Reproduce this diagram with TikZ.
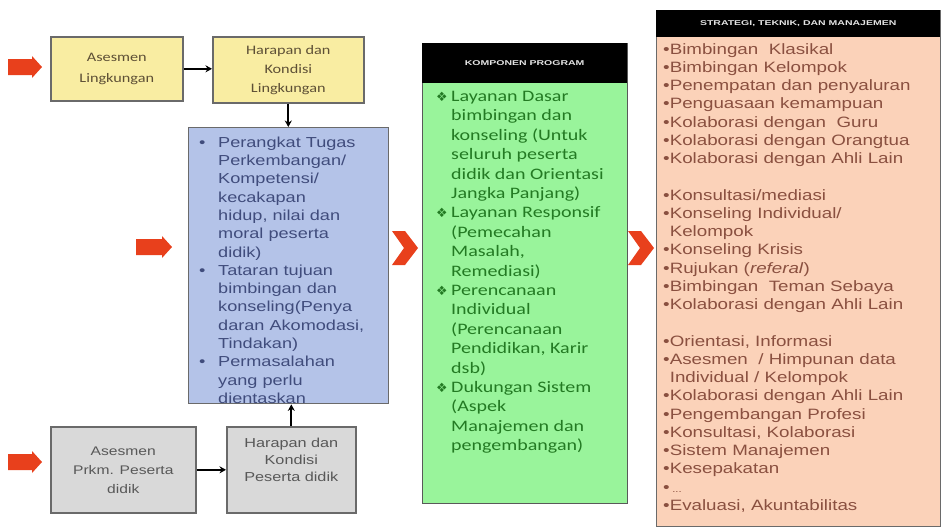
\documentclass[tikz,border=0pt]{standalone}
\usepackage{fontspec}
\usetikzlibrary{arrows.meta}
\newfontfamily\calf[FakeStretch=1.25]{Carlito}
\newfontfamily\arif[FakeStretch=1.25]{Liberation Sans}
\newfontfamily\hdrf[FakeStretch=1.5]{Liberation Sans}
\newfontfamily\dejf[Scale=0.8]{DejaVu Sans}
\definecolor{yel}{HTML}{F9EDA2}
\definecolor{yelt}{HTML}{5E5036}
\definecolor{grayf}{HTML}{D9D9D9}
\definecolor{grayt}{HTML}{585858}
\definecolor{bluef}{HTML}{B4C3E8}
\definecolor{bluet}{HTML}{404C7C}
\definecolor{greenf}{HTML}{99F49B}
\definecolor{greent}{HTML}{237A23}
\definecolor{orf}{HTML}{FBD2B9}
\definecolor{ort}{HTML}{8A5040}
\definecolor{redarr}{HTML}{E8401C}
\definecolor{edge}{HTML}{6A6A6A}
\newcommand{\bl}{\makebox[19pt][l]{•}}
\newcommand{\ind}{\hspace*{19pt}}
\newcommand{\gd}{\makebox[15pt][l]{\dejf ❖}}
\newcommand{\gind}{\hspace*{15pt}}
\newcommand{\ob}{•}
\newcommand{\oind}{\hspace*{6.6pt}}
\begin{document}
\begin{tikzpicture}[x=1pt,y=-1pt,
  box/.style={draw=edge, line width=1.6pt, inner sep=2pt, align=center, anchor=north west},
  ybox/.style={box, fill=yel, text=yelt, font={\calf\fontsize{13}{19}\selectfont}},
  gbox/.style={box, fill=grayf, text=grayt, font={\arif\fontsize{12.5}{19}\selectfont}},
  bigbox/.style={draw=edge, line width=1.4pt, anchor=north west, inner sep=0pt},
  hdr/.style={fill=black, anchor=north west, inner sep=0pt, text=white!80!gray, font={\hdrf\bfseries\fontsize{7}{8}\selectfont}},
  conn/.style={line width=2pt, -{Stealth[length=6.5pt,width=7pt]}},
  redfill/.style={fill=redarr, draw=none}]
\fill[white] (0,0) rectangle (944,528);
\useasboundingbox (0,0) rectangle (944,528);

% top row
\node[ybox, minimum width=132pt, minimum height=64pt, font={\calf\fontsize{13}{21}\selectfont}] (a1) at (50,36) {Asesmen\\Lingkungan};
\node[ybox, minimum width=151pt, minimum height=66pt] (h1) at (212,36) {Harapan dan\\Kondisi\\Lingkungan};

% blue box
\node[bigbox, fill=bluef, minimum width=200pt, minimum height=276pt] (blue) at (188,127) {};
\node[anchor=north west, inner sep=0pt, align=left, text=bluet, font={\arif\fontsize{14.5}{18.3}\selectfont}] (bluetext) at (199,136.5)
{\bl Perangkat Tugas\\\ind Perkembangan/\\\ind Kompetensi/\\\ind kecakapan\\\ind hidup, nilai dan\\\ind moral peserta\\\ind didik)\\
\bl Tataran tujuan\\\ind bimbingan dan\\\ind konseling(Penya\\\ind daran Akomodasi,\\\ind Tindakan)\\
\bl Permasalahan\\\ind yang perlu\\\ind dientaskan};

% bottom row
\node[gbox, minimum width=145pt, minimum height=86pt] (a2) at (50,426) {Asesmen\\Prkm. Peserta\\didik};
\node[gbox, minimum width=129pt, minimum height=86pt, font={\arif\fontsize{13}{17}\selectfont}] (h2) at (226,426) {Harapan dan\\Kondisi\\Peserta didik\\[4pt]\mbox{}};

% connectors
\draw[conn] (a1.east) -- (h1.west |- a1.east);
\draw[conn] (h1.south) -- (h1.south |- blue.north);
\draw[conn] (a2.east) -- (h2.west |- a2.east);
\draw[conn] (h2.north) -- (h2.north |- blue.south);

% green box
\node[bigbox, fill=greenf, draw=gray!70!black, minimum width=205pt, minimum height=460pt] (green) at (422,43) {};
\node[hdr, minimum width=205pt, minimum height=40pt] (ghdr) at (422,43) {KOMPONEN PROGRAM};
\node[anchor=north west, inner sep=0pt, align=left, text=greent, font={\calf\fontsize{16}{19.4}\selectfont}] (greentext) at (436,91)
{\gd Layanan Dasar\\\gind bimbingan dan\\\gind konseling (Untuk\\\gind seluruh peserta\\\gind didik dan Orientasi\\\gind Jangka Panjang)\\
\gd Layanan Responsif\\\gind (Pemecahan\\\gind Masalah,\\\gind Remediasi)\\
\gd Perencanaan\\\gind Individual\\\gind (Perencanaan\\\gind Pendidikan, Karir\\\gind dsb)\\
\gd Dukungan Sistem\\\gind (Aspek\\\gind Manajemen dan\\\gind pengembangan)};

% orange box
\node[bigbox, fill=orf, draw=edge, minimum width=284pt, minimum height=516pt] (orange) at (656,10) {};
\node[hdr, minimum width=284pt, minimum height=27pt] (ohdr) at (656,10) {STRATEGI, TEKNIK, DAN MANAJEMEN};
\node[anchor=north west, inner sep=0pt, align=left, text=ort, font={\arif\fontsize{15}{18.25}\selectfont}] (ortext) at (663,43)
{\ob Bimbingan\ \ Klasikal\\\ob Bimbingan Kelompok\\\ob Penempatan dan penyaluran\\\ob Penguasaan kemampuan\\\ob Kolaborasi dengan\ \ Guru\\\ob Kolaborasi dengan Orangtua\\\ob Kolaborasi dengan Ahli Lain\\\mbox{}\\
\ob Konsultasi/mediasi\\\ob Konseling Individual/\\\oind Kelompok\\\ob Konseling Krisis\\\ob Rujukan (\textit{referal})\\\ob Bimbingan\ \ Teman Sebaya\\\ob Kolaborasi dengan Ahli Lain\\\mbox{}\\
\ob Orientasi, Informasi\\\ob Asesmen\ \ / Himpunan data\\\oind Individual / Kelompok\\\ob Kolaborasi dengan Ahli Lain\\\ob Pengembangan Profesi\\\ob Konsultasi, Kolaborasi\\\ob Sistem Manajemen\\\ob Kesepakatan\\\ob\,\scalebox{0.6}{...}\\\ob Evaluasi, Akuntabilitas};

% red block arrows
\fill[redfill] (8,59) -- (32,59) -- (32,56) -- (42,67) -- (32,78) -- (32,75) -- (8,75) -- cycle;
\fill[redfill] (136,239) -- (162,239) -- (162,236) -- (172,247) -- (162,258) -- (162,255) -- (136,255) -- cycle;
\fill[redfill] (8,454) -- (32,454) -- (32,451) -- (42,462) -- (32,473) -- (32,470) -- (8,470) -- cycle;

% chevrons
\fill[redfill] (392,231) -- (405,231) -- (418,248) -- (405,265) -- (392,265) -- (404,248) -- cycle;
\fill[redfill] (628,231) -- (641,231) -- (654,248) -- (641,265) -- (628,265) -- (640,248) -- cycle;
\end{tikzpicture}
\end{document}
